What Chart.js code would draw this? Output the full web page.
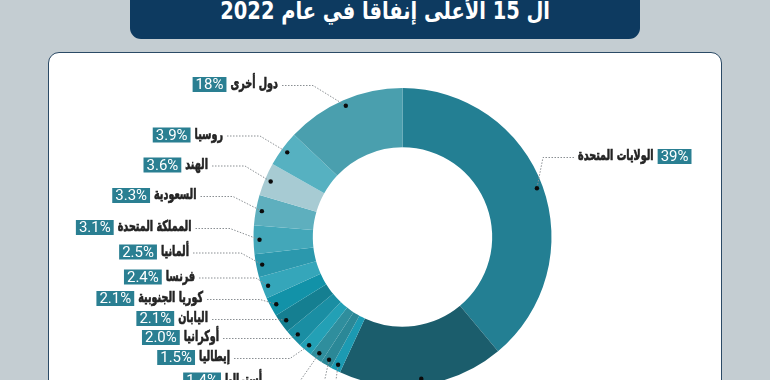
<!DOCTYPE html>
<html lang="ar">
<head>
<meta charset="utf-8">
<script src="https://cdn.jsdelivr.net/npm/chart.js@4.4.1/dist/chart.umd.min.js"></script>
<style>
  html, body { margin:0; padding:0; width:770px; height:380px; overflow:hidden; }
  body { background:#c4cdd2; position:relative; font-family:"DejaVu Sans", sans-serif; }
  #card { position:absolute; left:48px; top:52px; width:672px; height:420px; background:#fff;
          border:1.6px solid #2b4a66; border-radius:11px; }
  #title { position:absolute; left:130px; top:-14px; width:510px; height:53px; background:#0d3a60;
           border-radius:0 0 11px 11px; color:#fff; text-align:center; direction:rtl;
           font:bold 24px "DejaVu Sans Condensed", "DejaVu Sans", sans-serif; line-height:50px; }
  #title span { display:inline-block; transform:scaleX(0.9); transform-origin:center; }
  #c { position:absolute; left:0; top:0; }
</style>
</head>
<body>
<div id="card"></div>
<div id="title"><span>ال 15 الأعلى إنفاقاً في عام 2022</span></div>
<canvas id="c" width="770" height="380"></canvas>
<script>
// ---- data (clockwise from the top of the ring) ----
const countries = ['الولايات المتحدة','الصين','إسرائيل','كندا','أستراليا','إيطاليا','أوكرانيا','اليابان','كوريا الجنوبية','فرنسا','ألمانيا','المملكة المتحدة','السعودية','الهند','روسيا','دول أخرى'];
// percentages printed in the labels
const shares = [39, 13, 1.1, 1.2, 1.4, 1.5, 2.0, 2.1, 2.1, 2.4, 2.5, 3.1, 3.3, 3.6, 3.9, 18];
// slice sizes as drawn in the picture (%)
const arcShares = [39, 18, 1.1, 1.2, 1.4, 1.5, 2.0, 2.1, 2.1, 2.4, 2.5, 3.1, 3.3, 3.6, 3.9, 13];

// ---- styles ----
const sliceColors = ['#237f93','#1b5d6c','#1c9ab2','#2b8897','#2f8e9d','#23a0b5','#1a8ea3','#157f91','#1292a8','#35a6ba','#2b98ad','#43a7b9','#5eafbe','#a7cbd3','#56b1c1','#4a9fae'];
// label layout: [side, textEdgeX, lineY, elbowX]
const labelLayout = [
  ['R', 578, 157.5, 543],
  ['L', 560, 430, 500],
  ['L', 300, 424, 330],
  ['L', 280, 402, 320],
  ['L', 262, 381, 300],
  ['L', 230, 358.5, 290],
  ['L', 219, 338.5, 290],
  ['L', 208, 319.5, 278],
  ['L', 203, 299.5, 260],
  ['L', 195, 278, 256],
  ['L', 189, 253, 241],
  ['L', 191.5, 228.5, 230],
  ['L', 196.5, 196.5, 233],
  ['L', 208, 166, 245],
  ['L', 223, 136, 260],
  ['L', 278, 85.5, 313]
];
const NAME_FONT = 'bold 15px "DejaVu Sans", sans-serif';
const NAME_SQUEEZE = 0.64;
const PCT_FONT = '15px Roboto, "DejaVu Sans", sans-serif';

function fmtPct(v){ return (Number.isInteger(v) && v >= 10 ? String(v) : v.toFixed(1)) + '%'; }

const labelPlugin = {
  id: 'leaderLabels',
  afterDatasetsDraw(chart) {
    const ctx = chart.ctx;
    const arcs = chart.getDatasetMeta(0).data;
    ctx.save();
    arcs.forEach((arc, i) => {
      const p = arc.getProps(['x','y','startAngle','endAngle','outerRadius'], true);
      const mid = (p.startAngle + p.endAngle) / 2;
      const r = p.outerRadius - 6;
      const dx = p.x + Math.cos(mid) * r, dy = p.y + Math.sin(mid) * r;
      const [side, tx, ly, ex] = labelLayout[i];
      const name = countries[i];
      const pct = fmtPct(shares[i]);
      ctx.font = NAME_FONT;
      const nameW = ctx.measureText(name).width * NAME_SQUEEZE;
      ctx.font = PCT_FONT;
      const pctW = ctx.measureText(pct).width;
      const boxW = pctW + 6, boxH = 15;
      // leader line
      ctx.strokeStyle = '#8a8f93';
      ctx.lineWidth = 1;
      ctx.setLineDash([1.5, 1.5]);
      ctx.beginPath();
      if (side === 'L') { ctx.moveTo(tx + 4, ly); } else { ctx.moveTo(tx - 4, ly); }
      ctx.lineTo(ex, ly);
      ctx.lineTo(dx, dy);
      ctx.stroke();
      ctx.setLineDash([]);
      // dot
      ctx.fillStyle = '#0b0b0b';
      ctx.beginPath(); ctx.arc(dx, dy, 2.2, 0, Math.PI * 2); ctx.fill();
      // text + box
      const cy = ly - 1;
      let boxX, nameX;
      if (side === 'L') {
        nameX = tx;
        boxX = tx - nameW - 4 - boxW;
      } else {
        nameX = tx + nameW;
        boxX = nameX + 4;
      }
      ctx.fillStyle = '#2a7f92';
      ctx.fillRect(boxX, cy - boxH / 2, boxW, boxH);
      ctx.fillStyle = '#ffffff';
      ctx.textAlign = 'center';
      ctx.textBaseline = 'middle';
      ctx.font = PCT_FONT;
      ctx.fillText(pct, boxX + boxW / 2, cy + 1);
      ctx.fillStyle = '#242424';
      ctx.strokeStyle = '#242424';
      ctx.lineWidth = 0.7;
      ctx.textAlign = 'right';
      ctx.font = NAME_FONT;
      ctx.save();
      ctx.translate(nameX, cy);
      ctx.scale(NAME_SQUEEZE, 1);
      ctx.fillText(name, 0, 0);
      ctx.strokeText(name, 0, 0);
      ctx.restore();
    });
    ctx.restore();
  }
};

new Chart(document.getElementById('c'), {
  type: 'doughnut',
  data: {
    labels: countries,
    datasets: [{ data: arcShares, backgroundColor: sliceColors, borderWidth: 0, radius: 149 }]
  },
  options: {
    responsive: false,
    animation: false,
    cutout: '60.2%',
    layout: { padding: { left: 35, right: 0, top: 94, bottom: 0 } },
    plugins: { legend: { display: false }, tooltip: { enabled: false } },
    events: []
  },
  plugins: [labelPlugin]
});
</script>
</body>
</html>
